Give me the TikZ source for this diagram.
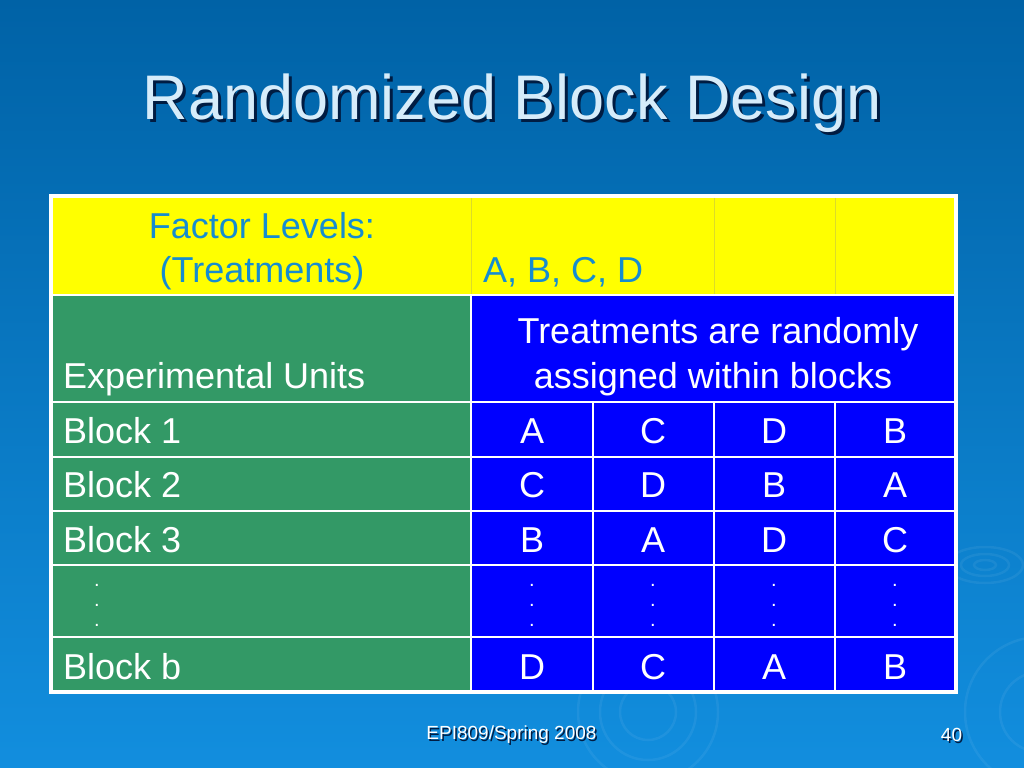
\documentclass[tikz,border=0pt]{standalone}
\usepackage{fontspec}
\setmainfont{Liberation Sans}
\usetikzlibrary{positioning}

\definecolor{bgtop}{RGB}{0,98,166}
\definecolor{bgbot}{RGB}{18,142,222}
\definecolor{cellgreen}{RGB}{51,153,102}
\definecolor{cellblue}{RGB}{0,0,255}
\definecolor{cellyellow}{RGB}{255,255,0}
\definecolor{yellowrule}{RGB}{220,220,40}
\definecolor{headtext}{RGB}{22,140,208}
\definecolor{titletext}{RGB}{214,236,250}
\definecolor{shadowtext}{RGB}{0,28,66}

\tikzset{
  celltext/.style={font=\fontsize{36bp}{42bp}\selectfont, text=white, inner sep=0pt, anchor=base},
  headtext/.style={celltext, text=headtext},
  dottext/.style={font=\fontsize{20bp}{20bp}\selectfont, text=white, inner sep=0pt, anchor=base},
  gridline/.style={draw=white, line width=2bp},
  ripple/.style={draw=white, opacity=0.06, line width=2.5bp},
}

\begin{document}
\begin{tikzpicture}[x=1bp,y=-1bp]
\useasboundingbox (0,0) rectangle (1024,768);
\shade[top color=bgtop, bottom color=bgbot] (0,0) rectangle (1024,768);
% faint ripples
\draw[ripple] (985,565) ellipse (38 and 18);
\draw[ripple] (985,565) ellipse (24 and 11);
\draw[ripple] (985,565) ellipse (11 and 5);
\draw[ripple] (648,712) circle (28);
\draw[ripple] (648,712) circle (48);
\draw[ripple] (648,712) circle (70);
\draw[ripple] (1040,712) circle (40);
\draw[ripple] (1040,712) circle (75);
% title
\node[font=\fontsize{63bp}{70bp}\selectfont, text=shadowtext, inner sep=0pt, anchor=base] (titleshadow) at (515,122) {Randomized Block Design};
\node[font=\fontsize{63bp}{70bp}\selectfont, text=titletext, inner sep=0pt, anchor=base] (title) at (512,119) {Randomized Block Design};
% table cells
\fill[white] (49,194) rectangle (958,694);
\fill[cellyellow] (53,198) rectangle (954,295);
\fill[cellgreen] (53,295) rectangle (471,690);
\fill[cellblue] (471,295) rectangle (954,690);
\draw[yellowrule, line width=1bp] (471,198) -- (471,295);
\draw[yellowrule, line width=1bp] (714,198) -- (714,295);
\draw[yellowrule, line width=1bp] (835,198) -- (835,295);
\draw[gridline] (53,295) -- (954,295);
\draw[gridline] (471,295) -- (471,690);
\foreach \yy in {402,457,511,565,637}
  \draw[gridline] (53,\yy) -- (954,\yy);
\foreach \xx in {593,714,835}
  \draw[gridline] (\xx,402) -- (\xx,690);
% header texts
\node[headtext] (factor) at (262,238) {Factor Levels:};
\node[headtext] (treat) at (262,282) {(Treatments)};
\node[headtext, anchor=base west] (levels) at (483,282) {A, B, C, D};
\node[celltext, anchor=base west] (units) at (63,388) {Experimental Units};
\node[celltext] (assign1) at (718,343) {Treatments are randomly};
\node[celltext] (assign2) at (713,388) {assigned within blocks};
% blocks
\node[celltext, anchor=base west] (block1) at (63,443) {Block 1};
\node[celltext, anchor=base west] (block2) at (63,497) {Block 2};
\node[celltext, anchor=base west] (block3) at (63,552) {Block 3};
\node[celltext, anchor=base west] (blockb) at (63,679) {Block b};
% vertical dots
\foreach \x/\n in {97/0,532/1,653/2,774/3,895/4}
  \foreach \y/\k in {586/1,606/2,626/3}
    \node[dottext] (dot\n\k) at (\x,\y) {.};
% treatments per block
\foreach \y/\r/\la/\lb/\lc/\ld in {443/1/A/C/D/B,497/2/C/D/B/A,552/3/B/A/D/C,679/b/D/C/A/B}{
  \node[celltext] (t\r a) at (532,\y) {\la};
  \node[celltext] (t\r b) at (653,\y) {\lb};
  \node[celltext] (t\r c) at (774,\y) {\lc};
  \node[celltext] (t\r d) at (895,\y) {\ld};
}
% footer
\node[font=\fontsize{19bp}{22bp}\selectfont, text=shadowtext, inner sep=0pt, anchor=base] (footshadow) at (513,741) {EPI809/Spring 2008};
\node[font=\fontsize{19bp}{22bp}\selectfont, text=white, inner sep=0pt, anchor=base] (foot) at (511.5,739.5) {EPI809/Spring 2008};
\node[font=\fontsize{19bp}{22bp}\selectfont, text=shadowtext, inner sep=0pt, anchor=base] (pageshadow) at (953,743) {40};
\node[font=\fontsize{19bp}{22bp}\selectfont, text=white, inner sep=0pt, anchor=base] (page) at (951.5,741.5) {40};
\end{tikzpicture}
\end{document}
